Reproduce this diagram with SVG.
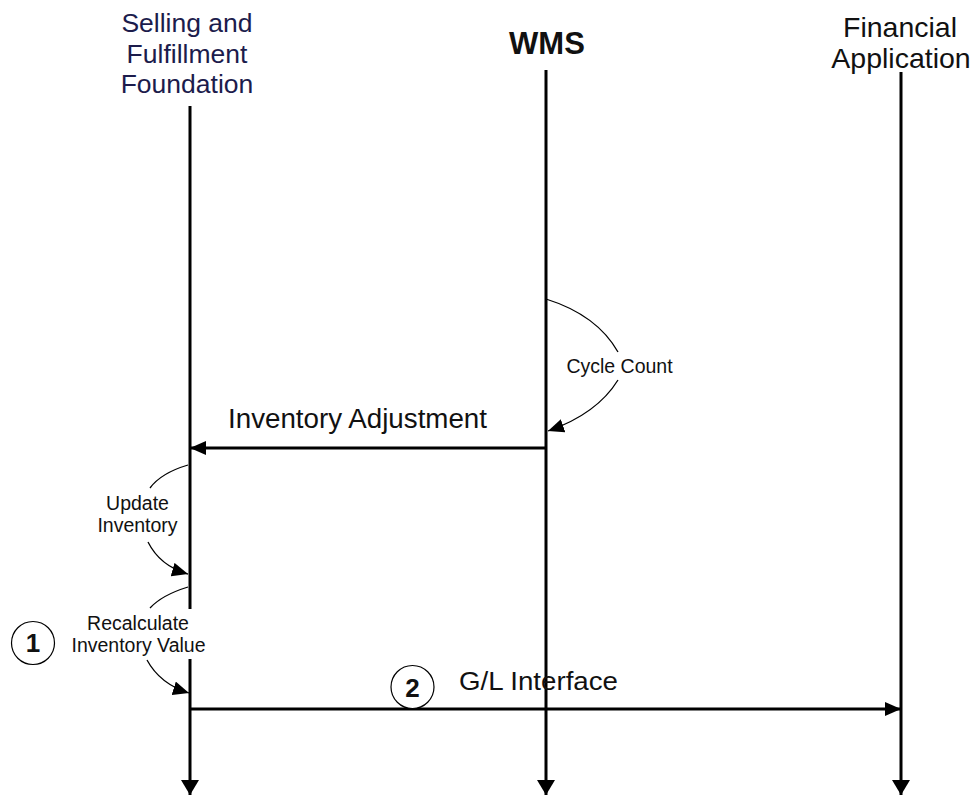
<svg xmlns="http://www.w3.org/2000/svg" width="976" height="797" viewBox="0 0 976 797">
<style>
  text { font-family: "Liberation Sans", Arial, sans-serif; fill: #111; }
  .hdr { font-size: 26.5px; }
  .lbl { font-size: 19.5px; }
  .big { font-size: 27.5px; }
  .num { font-size: 26px; font-weight: bold; }
  .life { stroke: #000; stroke-width: 3; fill: none; }
  .msg { stroke: #000; stroke-width: 3; fill: none; }
  .curve { stroke: #000; stroke-width: 1.3; fill: none; }
  .circ { stroke: #000; stroke-width: 1.2; fill: #fff; }
</style>
<defs>
  <marker id="arrowBig" markerUnits="userSpaceOnUse" markerWidth="16" markerHeight="18" refX="15" refY="9" orient="auto">
    <path d="M0,0 L15,9 L0,18 z" fill="#000"/>
  </marker>
  <marker id="arrow" markerUnits="userSpaceOnUse" markerWidth="17" markerHeight="14" refX="16" refY="7" orient="auto">
    <path d="M0,0 L16,7 L0,14 z" fill="#000"/>
  </marker>
</defs>
<rect width="976" height="797" fill="#fff"/>

<g id="connectors">
  <path class="life" d="M190,106 L190,795" marker-end="url(#arrowBig)"/>
  <path class="life" d="M546,70 L546,795" marker-end="url(#arrowBig)"/>
  <path class="life" d="M901,72 L901,795" marker-end="url(#arrowBig)"/>
  <path class="msg" d="M546,448 L190,448" marker-end="url(#arrow)"/>
  <path class="msg" d="M190,709 L901,709" marker-end="url(#arrow)"/>
  <path class="curve" d="M546,299 Q597,315 618,352"/>
  <path class="curve" d="M618,380 Q597,414 548,431" marker-end="url(#arrow)"/>
  <path class="curve" d="M188,465 Q161,473 150,488"/>
  <path class="curve" d="M148,542 Q160,566 188,574" marker-end="url(#arrow)"/>
  <path class="curve" d="M188,587 Q162,595 150,608"/>
  <path class="curve" d="M147,660 Q160,684 189,693" marker-end="url(#arrow)"/>
</g>

<g id="node-sff">
  <text class="hdr" x="187" y="32" text-anchor="middle" style="fill:#1c1c4c">Selling and</text>
  <text class="hdr" x="187" y="63" text-anchor="middle" style="fill:#1c1c4c">Fulfillment</text>
  <text class="hdr" x="187" y="93" text-anchor="middle" style="fill:#1c1c4c">Foundation</text>
</g>
<g id="node-wms">
  <text x="547" y="54" text-anchor="middle" style="font-size:31px;font-weight:bold">WMS</text>
</g>
<g id="node-fa">
  <text x="900" y="37" text-anchor="middle" style="font-size:28.5px">Financial</text>
  <text x="901" y="68" text-anchor="middle" style="font-size:28.5px">Application</text>
</g>

<g id="label-cycle">
  <text class="lbl" x="619.5" y="373" text-anchor="middle">Cycle Count</text>
</g>
<g id="label-invadj">
  <text class="big" x="228" y="428" textLength="259" lengthAdjust="spacingAndGlyphs">Inventory Adjustment</text>
</g>
<g id="label-update">
  <text class="lbl" x="137.5" y="510" text-anchor="middle">Update</text>
  <text class="lbl" x="137.5" y="532" text-anchor="middle">Inventory</text>
</g>
<g id="label-recalc">
  <rect x="68" y="609" width="141" height="50" fill="#fff"/>
  <text class="lbl" x="138" y="630" text-anchor="middle">Recalculate</text>
  <text class="lbl" x="138.5" y="652" text-anchor="middle">Inventory Value</text>
</g>
<g id="label-gl">
  <text x="459" y="690" style="font-size:25px" textLength="159" lengthAdjust="spacingAndGlyphs">G/L Interface</text>
</g>
<g id="step-1">
  <circle class="circ" cx="33" cy="643" r="21.5"/>
  <text class="num" x="33" y="652" text-anchor="middle">1</text>
</g>
<g id="step-2">
  <circle class="circ" cx="412.5" cy="687" r="21.5"/>
  <text class="num" x="412.5" y="697" text-anchor="middle">2</text>
</g>
</svg>
